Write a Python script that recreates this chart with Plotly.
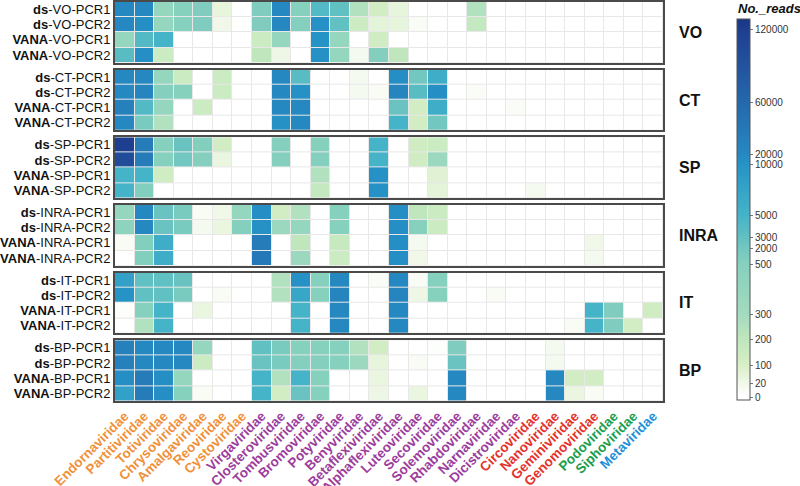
import numpy as np
import plotly.graph_objects as go
from plotly.subplots import make_subplots

FAMILIES = ["Endornaviridae", "Partitiviridae", "Totiviridae", "Chrysoviridae", "Amalgaviridae",
            "Reoviridae", "Cystoviridae", "Virgaviridae", "Closteroviridae", "Tombusviridae",
            "Bromoviridae", "Potyviridae", "Benyviridae", "Betaflexiviridae", "Alphaflexiviridae",
            "Luteoviridae", "Secoviridae", "Solemoviridae", "Rhabdoviridae", "Narnaviridae",
            "Dicistroviridae", "Circoviridae", "Nanoviridae", "Geminiviridae", "Genomoviridae",
            "Podoviridae", "Siphoviridae", "Metaviridae"]
FAMILY_GROUP = ["dsRNA"] * 7 + ["ssRNA"] * 14 + ["ssDNA"] * 4 + ["dsDNA"] * 2 + ["RT"]
GROUP_COLORS = {"dsRNA": "#f0913a", "ssRNA": "#9c3d9e", "ssDNA": "#e5322b",
                "dsDNA": "#1a9e4c", "RT": "#1e8fd8"}

SITES = ["VO", "CT", "SP", "INRA", "IT", "BP"]
SAMPLES = [("ds", "PCR1"), ("ds", "PCR2"), ("VANA", "PCR1"), ("VANA", "PCR2")]

#        Endo  Part  Toti Chry Amal Reo Cys Virg  Clos  Tomb  Brom  Poty Beny Beta Alph  Lut  Seco Sole Rhab Nar Dic Cir Nan  Gem  Geno Pod  Sip Meta
VO = [
    [20000, 20000, 400, 500, 1000, 50, 0, 1000, 20000, 500, 4000, 3000, 250, 120, 50, 0, 0, 0, 250, 0, 0, 0, 0, 0, 0, 0, 0, 0],
    [20000, 15000, 400, 500, 1000, 20, 0, 1000, 20000, 600, 12000, 3000, 150, 60, 50, 10, 0, 0, 180, 0, 0, 0, 0, 0, 0, 0, 0, 0],
    [400, 4000, 5000, 0, 0, 0, 0, 150, 400, 0, 10000, 400, 0, 130, 0, 0, 0, 0, 0, 0, 0, 0, 0, 0, 0, 0, 0, 0],
    [3500, 15000, 150, 0, 0, 0, 0, 200, 30, 0, 12000, 400, 15, 700, 200, 0, 0, 0, 0, 0, 0, 0, 0, 0, 0, 0, 0, 0],
]
CT = [
    [20000, 20000, 400, 150, 0, 150, 0, 0, 20000, 3500, 0, 0, 15, 0, 15000, 2000, 6000, 0, 0, 0, 0, 0, 0, 0, 0, 0, 0, 0],
    [20000, 25000, 600, 500, 0, 150, 0, 0, 20000, 12000, 0, 0, 15, 10, 25000, 3500, 15000, 0, 8, 0, 0, 0, 0, 0, 0, 0, 0, 0],
    [30000, 4000, 400, 0, 150, 0, 0, 0, 20000, 20000, 0, 0, 0, 0, 2500, 120, 6000, 0, 0, 0, 8, 0, 0, 0, 0, 0, 0, 0],
    [20000, 1500, 250, 0, 0, 0, 0, 0, 12000, 20000, 0, 0, 0, 0, 5000, 120, 2000, 0, 0, 0, 0, 0, 0, 0, 0, 0, 0, 0],
]
SP = [
    [120000, 35000, 500, 2500, 700, 120, 0, 0, 600, 0, 500, 0, 0, 5000, 0, 130, 150, 0, 0, 0, 0, 0, 0, 0, 0, 0, 0, 0],
    [100000, 35000, 500, 2000, 600, 40, 0, 0, 600, 0, 600, 0, 0, 5000, 0, 130, 350, 0, 0, 0, 0, 0, 0, 0, 0, 0, 0, 0],
    [5000, 5000, 130, 0, 0, 0, 0, 0, 0, 0, 250, 0, 0, 12000, 0, 0, 70, 0, 0, 0, 0, 0, 0, 0, 0, 0, 0, 0],
    [5000, 700, 0, 0, 0, 0, 0, 0, 0, 0, 180, 0, 0, 12000, 0, 0, 60, 0, 0, 0, 0, 15, 0, 0, 0, 0, 0, 0],
]
INRA = [
    [400, 20000, 2500, 1500, 10, 20, 400, 15000, 120, 250, 0, 500, 0, 0, 15000, 200, 150, 0, 0, 0, 0, 0, 0, 0, 0, 0, 0, 0],
    [450, 20000, 2500, 1500, 15, 40, 600, 12000, 350, 400, 0, 500, 0, 0, 15000, 500, 150, 0, 0, 0, 0, 0, 0, 0, 0, 0, 0, 0],
    [10, 700, 6000, 0, 0, 0, 0, 35000, 0, 200, 0, 170, 0, 0, 15000, 15, 0, 0, 0, 0, 0, 0, 0, 0, 20, 0, 0, 0],
    [0, 700, 6000, 0, 0, 0, 0, 40000, 0, 350, 0, 150, 0, 0, 15000, 20, 0, 0, 0, 0, 0, 0, 0, 0, 15, 0, 0, 0],
]
IT = [
    [8000, 3000, 3000, 2500, 0, 0, 0, 0, 250, 12000, 500, 20000, 0, 8, 20000, 10, 500, 0, 0, 0, 0, 0, 0, 0, 0, 0, 0, 0],
    [10000, 3000, 3000, 1500, 0, 10, 0, 0, 250, 7000, 500, 25000, 0, 0, 25000, 30, 500, 0, 0, 10, 0, 0, 0, 0, 0, 0, 0, 0],
    [5, 500, 5000, 0, 40, 0, 0, 0, 0, 5000, 0, 20000, 0, 0, 20000, 0, 0, 0, 0, 0, 0, 0, 0, 0, 5000, 1000, 0, 130],
    [0, 250, 5000, 0, 0, 0, 0, 0, 0, 5000, 0, 20000, 0, 0, 20000, 0, 0, 0, 0, 0, 0, 0, 0, 10, 5000, 1000, 120, 0],
]
BP = [
    [30000, 20000, 20000, 20000, 400, 0, 0, 3000, 1500, 500, 500, 500, 250, 120, 0, 0, 5, 1000, 0, 0, 0, 0, 15, 0, 0, 0, 0, 0],
    [30000, 20000, 20000, 20000, 150, 0, 0, 2500, 1500, 600, 600, 500, 350, 50, 0, 10, 0, 2500, 0, 0, 0, 0, 15, 0, 0, 0, 0, 0],
    [15000, 35000, 15000, 400, 0, 0, 0, 5000, 250, 5000, 500, 0, 0, 40, 0, 0, 0, 20000, 0, 0, 0, 0, 20000, 120, 120, 0, 0, 0],
    [8000, 35000, 15000, 500, 10, 0, 0, 5000, 120, 2500, 500, 0, 0, 30, 0, 40, 0, 20000, 0, 0, 0, 0, 20000, 40, 10, 0, 0, 0],
]
SITE_DATA = {"VO": VO, "CT": CT, "SP": SP, "INRA": INRA, "IT": IT, "BP": BP}

# colour bar tick labels and the (non-linear) scale they sit on
SCALE_LABELS = [0, 20, 100, 200, 300, 500, 2000, 3000, 5000, 10000, 20000, 60000, 120000]
SCALE_POS = [3, 17, 35, 61, 86, 136, 152, 163, 185, 236, 246, 298, 371]
SCALE_TOP = 381


def to_pos(values):
    return np.interp(np.asarray(values, dtype=float), SCALE_LABELS, SCALE_POS)


colorscale = [
    [0.0, "#ffffff"], [0.01, "#ffffff"], [0.045, "#f1f8ea"], [0.092, "#d7efc6"],
    [0.16, "#bfe6bd"], [0.226, "#a3dbbf"], [0.357, "#86d0be"], [0.40, "#72c7c0"],
    [0.43, "#5fbfc2"], [0.486, "#45b3c8"], [0.62, "#2593c6"], [0.646, "#2688c1"],
    [0.78, "#2568ad"], [0.97, "#1f3f90"], [1.0, "#1b3585"],
]

W, H = 800, 486
ML, MR, MT, MB = 115, 137, 2, 85
PW, PH = W - ML - MR, H - MT - MB
GAP = 7
FONT = "Liberation Sans, Arial"

fig = make_subplots(rows=6, cols=1, shared_xaxes=True, vertical_spacing=GAP / PH)

xs = list(range(len(FAMILIES)))
for i, site in enumerate(SITES):
    z = to_pos(SITE_DATA[site])
    fig.add_trace(go.Heatmap(
        x=xs, y=[0, 1, 2, 3], z=z, coloraxis="coloraxis", xgap=1, ygap=1,
        customdata=np.asarray(SITE_DATA[site]),
        hovertemplate="%{customdata}<extra></extra>"), row=i + 1, col=1)
    fig.update_yaxes(
        row=i + 1, col=1, tickvals=[0, 1, 2, 3],
        ticktext=[f"<b>{p}</b>-{site}-{r}" for p, r in SAMPLES],
        range=[3.5, -0.5], showgrid=False, zeroline=False, ticks="", automargin=False,
        showline=True, mirror=True, linecolor="#4a4a4a", linewidth=2,
        tickfont=dict(family=FONT, size=13, color="#111"))
    fig.update_xaxes(
        row=i + 1, col=1, range=[-0.5, len(FAMILIES) - 0.5], showgrid=False, zeroline=False,
        showline=True, mirror=True, linecolor="#4a4a4a", linewidth=2, ticks="", automargin=False,
        tickvals=xs,
        ticktext=[f"<span style='color:{GROUP_COLORS[g]}'><b>{f}</b></span>"
                  for f, g in zip(FAMILIES, FAMILY_GROUP)],
        tickangle=-45,
        tickfont=dict(family=FONT, size=13.5))
    fig.add_annotation(text=f"<b>{site}</b>", xref="paper", yref=f"y{'' if i == 0 else i + 1} domain",
                       x=(677 - ML) / PW, y=0.5, xanchor="left", yanchor="middle", showarrow=False,
                       font=dict(family=FONT, size=16, color="#111"))

fig.update_layout(
    width=W, height=H, margin=dict(l=ML, r=MR, t=MT, b=MB, autoexpand=False),
    paper_bgcolor="white", plot_bgcolor="#e8e8e8",
    coloraxis=dict(
        colorscale=colorscale, cmin=0, cmax=SCALE_TOP,
        colorbar=dict(
            thickness=13, len=381 / PH, lenmode="fraction",
            y=(MT + PH - 400) / PH, yanchor="bottom", ypad=0,
            x=(737 - ML) / PW, xanchor="left", xpad=0,
            outlinewidth=1, outlinecolor="#555",
            tickvals=SCALE_POS, ticktext=[str(v) for v in SCALE_LABELS],
            ticks="outside", ticklen=3, tickcolor="#777",
            tickfont=dict(family=FONT, size=10, color="#333"),
        )),
    showlegend=False,
)
fig.add_annotation(text="<b><i>No._reads</i></b>", xref="paper", yref="paper",
                   x=(769 - ML) / PW, y=(MT + PH - 8) / PH, xanchor="center", yanchor="middle",
                   showarrow=False, font=dict(family=FONT, size=13, color="#111"))

fig.write_html("out.html", config={"displayModeBar": False},
               post_script="document.body.style.margin='0';document.body.style.overflow='hidden';")
